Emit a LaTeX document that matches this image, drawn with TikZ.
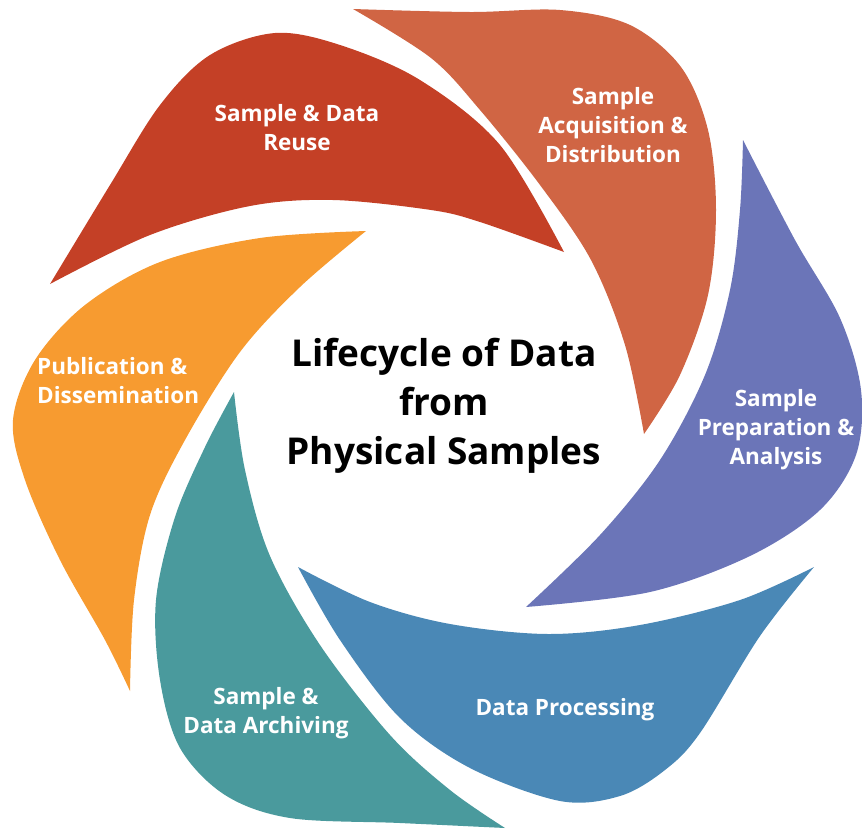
\documentclass[tikz,border=0pt]{standalone}
\usepackage{fontspec}
\setmainfont{Open Sans}
\definecolor{reusecol}{RGB}{196,64,38}
\definecolor{acqcol}{RGB}{208,101,68}
\definecolor{prepcol}{RGB}{107,117,184}
\definecolor{proccol}{RGB}{74,136,182}
\definecolor{archcol}{RGB}{74,154,157}
\definecolor{pubcol}{RGB}{247,155,48}
\tikzset{
  stage/.style={text=white, align=center, inner sep=0pt, font=\fontsize{22.5}{29}\selectfont\bfseries},
  heading/.style={text=black, align=center, inner sep=0pt, font=\fontsize{37}{49}\selectfont\bfseries},
  petal/.style={smooth, tension=0.55}
}
\begin{document}
\begin{tikzpicture}[x=1pt, y=-1pt]
  \useasboundingbox (0,0) rectangle (862,828);

  % ---- Sample & Data Reuse ----
  \fill[reusecol] plot[petal] coordinates {(50,284) (110,185) (160,105) (210,55) (275,33) (340,45) (420,80) (500,145) (564,252)}
    -- plot[petal] coordinates {(564,252) (480,222) (431,210) (333,200) (250,206) (150,235) (50,284)} -- cycle;

  % ---- Sample Acquisition & Distribution ----
  \fill[acqcol] plot[petal] coordinates {(353,9) (470,12) (560,10) (630,25) (681,67) (708,130) (716,210) (708,295) (680,375) (644,434)}
    -- plot[petal] coordinates {(644,434) (625,345) (591,260) (540,185) (480,110) (431,58) (353,9)} -- cycle;

  % ---- Sample Preparation & Analysis ----
  \fill[prepcol] plot[petal] coordinates {(743,140) (795,240) (840,318) (861,390) (856,455) (820,510) (750,556) (650,592) (526,607)}
    -- plot[petal] coordinates {(526,607) (600,535) (660,460) (705,375) (730,290) (740,210) (743,140)} -- cycle;

  % ---- Data Processing ----
  \fill[proccol] plot[petal] coordinates {(814,567) (740,600) (640,625) (548,634) (450,624) (370,602) (298,567)}
    -- plot[petal] coordinates {(298,567) (340,640) (400,718) (470,768) (560,801) (620,796) (665,770) (700,733) (760,636) (814,567)} -- cycle;

  % ---- Sample & Data Archiving ----
  \fill[archcol] plot[petal] coordinates {(234,392) (245,470) (270,556) (320,645) (390,735) (450,790) (505,828)}
    -- plot[petal] coordinates {(505,828) (400,823) (290,818) (225,795) (180,748) (160,680) (156,600) (175,517) (205,447) (234,392)} -- cycle;

  % ---- Publication & Dissemination ----
  \fill[pubcol] plot[petal] coordinates {(366,231) (260,238) (160,262) (85,305) (35,360) (13,420) (25,480) (60,560) (105,640) (130,691)}
    -- plot[petal] coordinates {(130,691) (134,600) (150,515) (185,440) (240,352) (300,287) (366,231)} -- cycle;

  % ---- Beschriftungen ----
  \node[stage] (reuse) at (297,128) {Sample \& Data\\Reuse};
  \node[stage] (acq) at (613,125) {Sample\\Acquisition \&\\Distribution};
  \node[stage] (prep) at (776,430) {Sample\\Preparation \&\\Analysis};
  \node[stage] (proc) at (565,710) {Data Processing};
  \node[stage] (arch) at (266,713) {Sample \&\\Data Archiving};
  \node[stage, align=left, anchor=west] (pub) at (37,381) {Publication \&\\Dissemination};

  \node[heading] (title) at (444,406) {Lifecycle of Data\\from\\Physical Samples};
\end{tikzpicture}
\end{document}
